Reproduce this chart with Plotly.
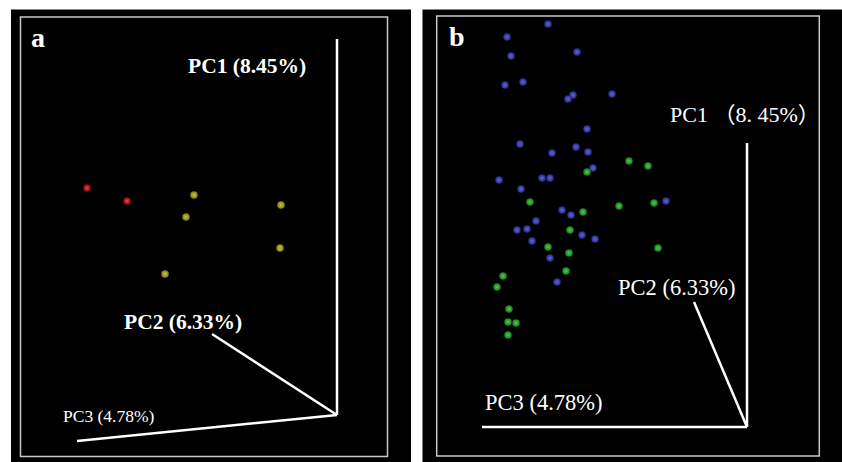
import plotly.graph_objects as go

W, H = 842, 462

# ---------------- data (panel-local units, origin at axis corner, y up) -------------
# Panel a
a_red_x = [-250, -210]
a_red_y = [227, 214]
a_yel_x = [-143, -151, -56, -57, -172]
a_yel_y = [220, 198, 210, 167, 141]

# Panel b
b_blue_x = [-199, -240, -236, -170, -242, -224, -174, -179, -135, -160,
            -227, -171, -195, -159, -154, -248, -205, -197, -226, -81,
            -185, -176, -211, -230, -220, -215, -165, -152, -197, -190]
b_blue_y = [403, 390, 371, 375, 342, 345, 332, 328, 333, 298,
            283, 280, 274, 275, 259, 247, 249, 249, 238, 226,
            217, 212, 206, 197, 198, 186, 192, 188, 169, 145]
b_green_x = [-118, -99, -160, -217, -128, -93, -164, -177, -199, -178,
             -89, -181, -244, -250, -238, -239, -231, -239]
b_green_y = [266, 261, 255, 225, 221, 224, 215, 197, 180, 174,
             179, 156, 151, 140, 118, 105, 104, 92]

# axis-line end points (from origin) and label texts
a_axes_x = {"PC1": 0, "PC2": -125, "PC3": -260}
a_axes_y = {"PC1": 376, "PC2": 81, "PC3": -26}
b_axes_x = {"PC1": 0, "PC2": -53, "PC3": -265}
b_axes_y = {"PC1": 284, "PC2": 125, "PC3": 0}

a_labels = ["PC1 (8.45%)", "PC2 (6.33%)", "PC3 (4.78%)"]
b_labels = ["PC1 （8. 45%）", "PC2 (6.33%)", "PC3 (4.78%)"]

fig = go.Figure()

def sphere(x, y, col, center, xa, ya):
    fig.add_trace(go.Scatter(
        x=x, y=y, mode="markers", xaxis=xa, yaxis=ya, showlegend=False,
        hoverinfo="skip",
        marker=dict(size=7.5, color=col, line=dict(width=0),
                    gradient=dict(type="radial", color=center))))

def axis_lines(ax_x, ax_y, xa, ya, width):
    for k in ["PC1", "PC2", "PC3"]:
        fig.add_trace(go.Scatter(
            x=[0, ax_x[k]], y=[0, ax_y[k]], mode="lines", xaxis=xa, yaxis=ya,
            showlegend=False, hoverinfo="skip",
            line=dict(color="white", width=width)))

axis_lines(a_axes_x, a_axes_y, "x", "y", 2.5)
axis_lines(b_axes_x, b_axes_y, "x2", "y2", 2.5)

sphere(a_red_x, a_red_y, "#900000", "#e84848", "x", "y")
sphere(a_yel_x, a_yel_y, "#7c7c0c", "#c8c850", "x", "y")
sphere(b_blue_x, b_blue_y, "#262688", "#6868d8", "x2", "y2")
sphere(b_green_x, b_green_y, "#187c18", "#58c858", "x2", "y2")

# ---------------- layout ----------------
# panel a black area: x 11..411, y 9.5..462 ; origin at (337,415)
# panel b black area: x 422.5..842, y 9.5..462 ; origin at (747,427)
def dom_x(x0, x1):
    return [x0 / W, x1 / W]

def dom_y(y0, y1):
    return [1 - y1 / H, 1 - y0 / H]

ax_common = dict(showgrid=False, zeroline=False, showticklabels=False,
                 ticks="", showline=False, fixedrange=True)

fig.update_layout(
    width=W, height=H, margin=dict(l=0, r=0, t=0, b=0),
    paper_bgcolor="white", plot_bgcolor="black",
    xaxis=dict(domain=dom_x(11, 411), range=[11 - 337, 411 - 337], **ax_common),
    yaxis=dict(domain=dom_y(9.5, 462), range=[415 - 462, 415 - 9.5], **ax_common),
    xaxis2=dict(domain=dom_x(422.5, 842), range=[422.5 - 747, 842 - 747],
                anchor="y2", **ax_common),
    yaxis2=dict(domain=dom_y(9.5, 462), range=[427 - 462, 427 - 9.5],
                anchor="x2", **ax_common),
)

# inner white frames
fig.add_shape(type="rect", xref="x", yref="y", x0=20.5 - 337, x1=387.5 - 337,
              y0=415 - 456.5, y1=415 - 17, line=dict(color="#c8c8c8", width=1.5))
fig.add_shape(type="rect", xref="x2", yref="y2", x0=436.7 - 747, x1=819.3 - 747,
              y0=427 - 456, y1=427 - 16, line=dict(color="#c8c8c8", width=1.5))

serif = "Liberation Serif, Times New Roman, serif"

def label(xa, ya, x, y, text, size, bold=False, family=serif):
    t = f"<b>{text}</b>" if bold else text
    fig.add_annotation(xref=xa, yref=ya, x=x, y=y, text=t, showarrow=False,
                       font=dict(family=family, size=size, color="white"),
                       xanchor="center", yanchor="middle")

# panel a labels
label("x", "y", -299, 378, "a", 28, bold=True)
label("x", "y", -90, 349, a_labels[0], 21.5, bold=True)
label("x", "y", -154, 93, a_labels[1], 21.5, bold=True)
label("x", "y", -228, -1, a_labels[2], 17.5)

# panel b labels
label("x2", "y2", -290, 391, "b", 28, bold=True)
label("x2", "y2", -2, 313, b_labels[0], 22,
      family="Liberation Serif, Noto Sans CJK SC, serif")
label("x2", "y2", -70, 140, b_labels[1], 22.5)
label("x2", "y2", -203, 25, b_labels[2], 22.5)

fig.write_html("out.html", config={"displayModeBar": False})
